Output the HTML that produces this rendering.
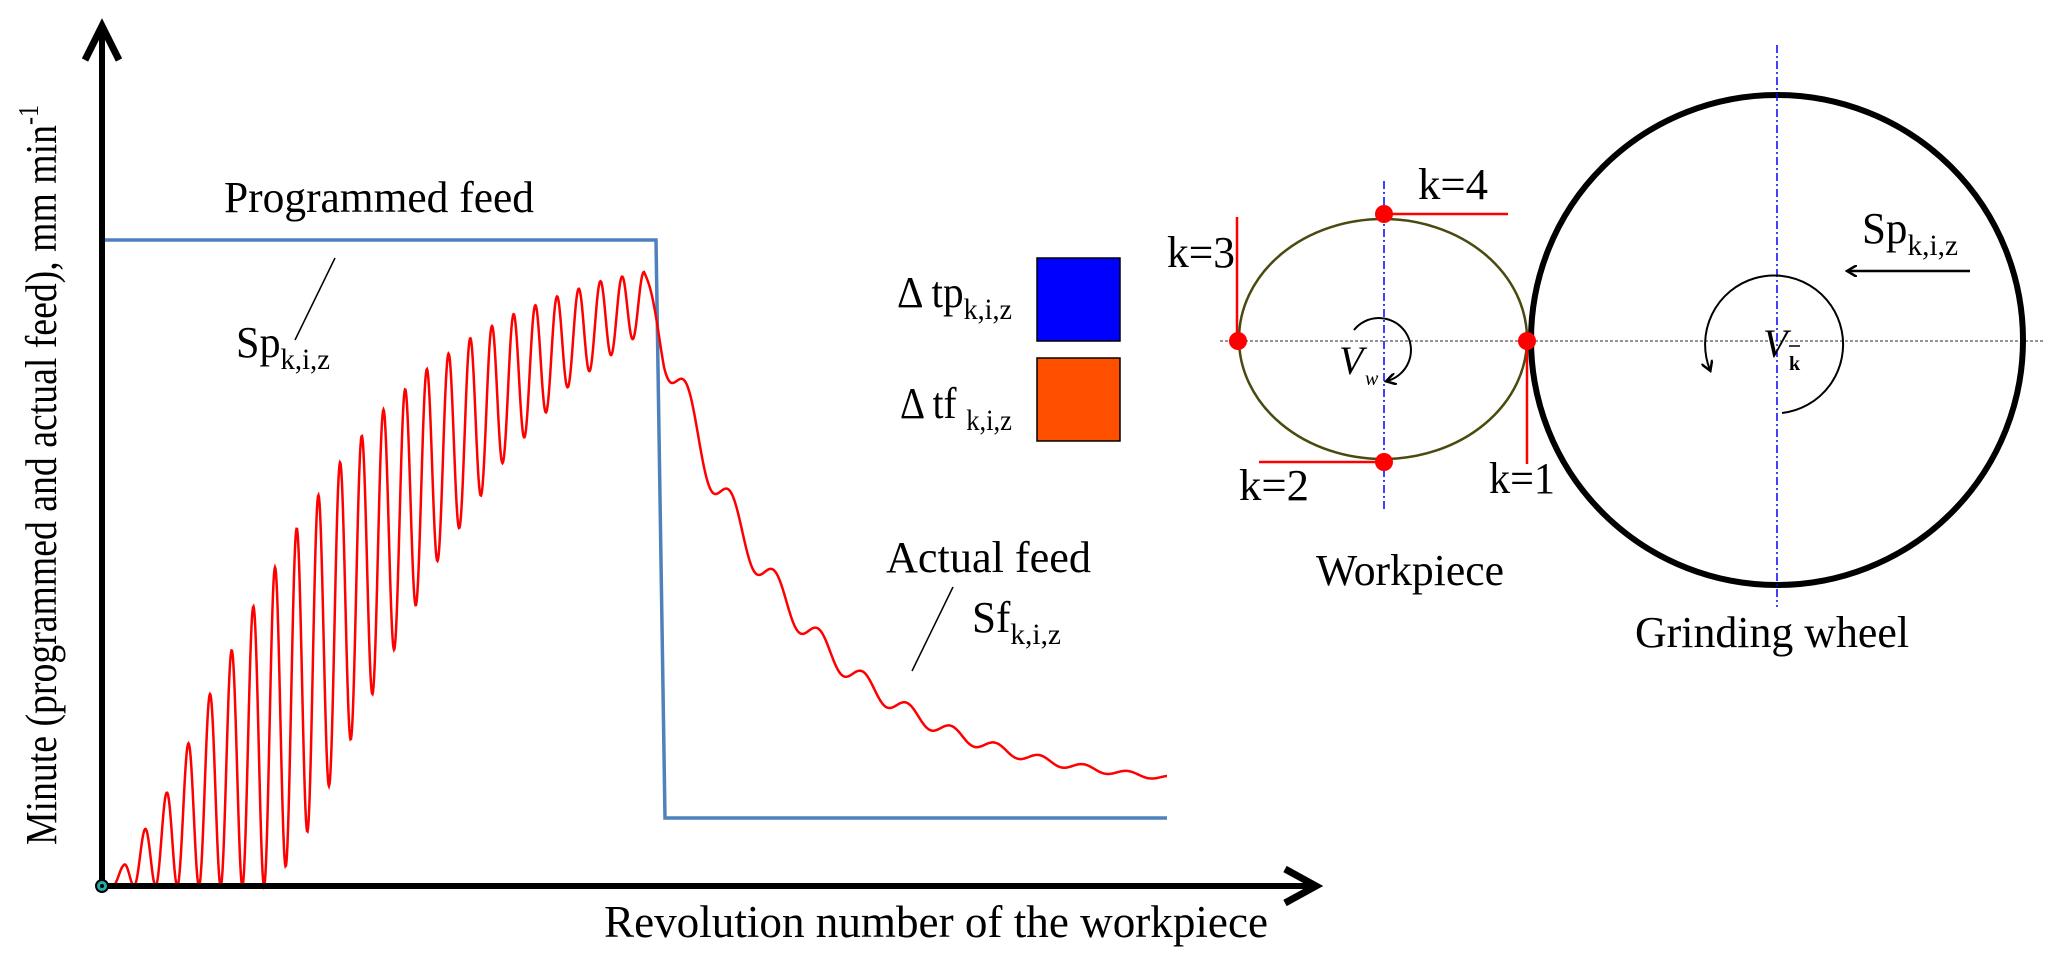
<!DOCTYPE html>
<html><head><meta charset="utf-8"><style>
html,body{margin:0;padding:0;background:#fff;}
svg{display:block;font-family:"Liberation Serif","Times New Roman",serif;}
</style></head><body>
<svg id="s" width="2067" height="970" viewBox="0 0 2067 970" xmlns="http://www.w3.org/2000/svg" font-family="Liberation Serif, serif">
<defs>
<marker id="ah" markerWidth="12" markerHeight="12" refX="9" refY="6" orient="auto" markerUnits="userSpaceOnUse"><path d="M0,0 L10,6 L0,12" fill="none" stroke="#000" stroke-width="2.5"/></marker>
</defs>
<polyline points="103,240 656,240 665,818 1167,818" fill="none" stroke="#4f81bd" stroke-width="3.5"/>
<path id="red" d="" fill="none" stroke="#ff0000" stroke-width="2.5"/>
<line x1="102" y1="886" x2="102" y2="32" stroke="#000" stroke-width="6"/>
<polyline points="85,60 102,26 119,60" fill="none" stroke="#000" stroke-width="7"/>
<line x1="102" y1="886" x2="1310" y2="886" stroke="#000" stroke-width="6"/>
<polyline points="1285,869 1316,886 1285,903" fill="none" stroke="#000" stroke-width="7"/>
<circle cx="102" cy="886" r="6" fill="#2aa" stroke="#000" stroke-width="2"/>
<circle cx="102" cy="886" r="2" fill="#000"/>
<text x="56" y="845" font-size="44" transform="rotate(-90 56 845)" textLength="740" lengthAdjust="spacingAndGlyphs">Minute (programmed and actual feed), mm min<tspan font-size="28" dy="-18">-1</tspan></text>
<text x="604" y="937" font-size="45" textLength="664" lengthAdjust="spacingAndGlyphs">Revolution number of the workpiece</text>
<text x="224" y="212" font-size="44" textLength="310" lengthAdjust="spacingAndGlyphs">Programmed feed</text>
<text x="236" y="357" font-size="44" textLength="94" lengthAdjust="spacingAndGlyphs">Sp<tspan font-size="30" dy="12">k,i,z</tspan></text>
<line x1="335" y1="258" x2="295" y2="340" stroke="#000" stroke-width="1.5"/>
<text x="886" y="572" font-size="44" textLength="205" lengthAdjust="spacingAndGlyphs">Actual feed</text>
<text x="972" y="632" font-size="44" textLength="89" lengthAdjust="spacingAndGlyphs">Sf<tspan font-size="30" dy="12">k,i,z</tspan></text>
<line x1="953" y1="587" x2="912" y2="671" stroke="#000" stroke-width="1.5"/>
<text x="897" y="307" font-size="44" textLength="115" lengthAdjust="spacingAndGlyphs">Δ tp<tspan font-size="30" dy="12">k,i,z</tspan></text>
<text x="900" y="418" font-size="44" textLength="112" lengthAdjust="spacingAndGlyphs">Δ tf <tspan font-size="30" dy="12">k,i,z</tspan></text>
<rect x="1037" y="258" width="83" height="83" fill="#0000ff" stroke="#000" stroke-width="1.5"/>
<rect x="1037" y="358" width="83" height="83" fill="#ff5000" stroke="#000" stroke-width="1.5"/>
<line x1="1220" y1="341" x2="2043" y2="341" stroke="#555" stroke-width="1.2" stroke-dasharray="3,2"/>
<ellipse cx="1383" cy="339" rx="144" ry="120" fill="none" stroke="#4a4a10" stroke-width="2.5"/>
<ellipse cx="1777" cy="340" rx="246" ry="245" fill="none" stroke="#000" stroke-width="6"/>
<line x1="1384" y1="181" x2="1384" y2="511" stroke="#0000ff" stroke-width="1.5" stroke-dasharray="8,3,2,3"/>
<line x1="1777" y1="45" x2="1777" y2="607" stroke="#0000ff" stroke-width="1.5" stroke-dasharray="8,3,2,3"/>
<line x1="1384" y1="214" x2="1508" y2="214" stroke="#f00" stroke-width="2.5"/>
<line x1="1237" y1="217" x2="1237" y2="341" stroke="#f00" stroke-width="2.5"/>
<line x1="1259" y1="462" x2="1384" y2="462" stroke="#f00" stroke-width="2.5"/>
<line x1="1527" y1="341" x2="1527" y2="464" stroke="#f00" stroke-width="2.5"/>
<circle cx="1384" cy="214" r="9" fill="#f00"/>
<circle cx="1238" cy="341" r="9" fill="#f00"/>
<circle cx="1527" cy="341" r="9" fill="#f00"/>
<circle cx="1384" cy="462" r="9" fill="#f00"/>
<text x="1418" y="199" font-size="44" textLength="70" lengthAdjust="spacingAndGlyphs">k=4</text>
<text x="1167" y="267" font-size="44" textLength="68" lengthAdjust="spacingAndGlyphs">k=3</text>
<text x="1239" y="500" font-size="44" textLength="70" lengthAdjust="spacingAndGlyphs">k=2</text>
<text x="1489" y="493" font-size="44" textLength="66" lengthAdjust="spacingAndGlyphs">k=1</text>
<text x="1316" y="585" font-size="44" textLength="188" lengthAdjust="spacingAndGlyphs">Workpiece</text>
<text x="1635" y="647" font-size="44" textLength="274" lengthAdjust="spacingAndGlyphs">Grinding wheel</text>
<path d="M1354,330 A32,32 0 1 1 1387,381" fill="none" stroke="#000" stroke-width="2" marker-end="url(#ah)"/>
<text x="1339" y="374" font-size="40" font-style="italic">V</text>
<text x="1365" y="385" font-size="20" font-style="italic">w</text>
<path d="M1782,413 A69,69 0 1 0 1710,370" fill="none" stroke="#000" stroke-width="2" marker-end="url(#ah)"/>
<text x="1763" y="357" font-size="40" font-style="italic">V</text>
<text x="1789" y="370" font-size="20" font-weight="bold">k</text>
<line x1="1789" y1="346" x2="1800" y2="346" stroke="#000" stroke-width="1.5"/>
<text x="1862" y="243" font-size="44" textLength="96" lengthAdjust="spacingAndGlyphs">Sp<tspan font-size="30" dy="12">k,i,z</tspan></text>
<line x1="1970" y1="271" x2="1848" y2="271" stroke="#000" stroke-width="2.5" marker-end="url(#ah)"/>
</svg>
<script>
(function(){
function interp(tab,x){
 if(x<=tab[0][0]) return tab[0][1];
 for(var i=1;i<tab.length;i++){ if(x<=tab[i][0]){var a=tab[i-1],b=tab[i];var f=(x-a[0])/(b[0]-a[0]);return a[1]+f*(b[1]-a[1]);} }
 return tab[tab.length-1][1];
}
var UT=[[102,886],[123,866],[167,792],[209,696],[254,605],[298,526],[341,461],[384,409],[427,369],[472,337],[514,314],[558,296],[601,281],[644,272]];
var LT=[[102,886],[270,886],[286,866],[309,829],[351,739],[373,693],[438,560],[504,461],[568,387],[633,339],[644,330]];
var pts=[];
for(var x=102;x<=644;x+=0.5){
 var U=interp(UT,x), L=interp(LT,x);
 var mid=(U+L)/2, amp=(L-U)/2;
 var y=mid-amp*Math.cos(2*Math.PI*(x-123)/21.7);
 if(x<112) y=886-(886-y)*((x-102)/10);
 pts.push(x.toFixed(1)+','+y.toFixed(1));
}
for(var x=644.5;x<=1167;x+=0.5){
 var M=790-518*Math.exp(-(x-644)/140);
 var a=30*Math.exp(-(x-644)/200)*Math.min(1,(x-644)/20);
 var y=M-a*Math.cos(2*Math.PI*(x-688)/44);
 pts.push(x.toFixed(1)+','+y.toFixed(1));
}
document.getElementById('red').setAttribute('d','M'+pts.join(' L'));
})();
</script>
</body></html>
